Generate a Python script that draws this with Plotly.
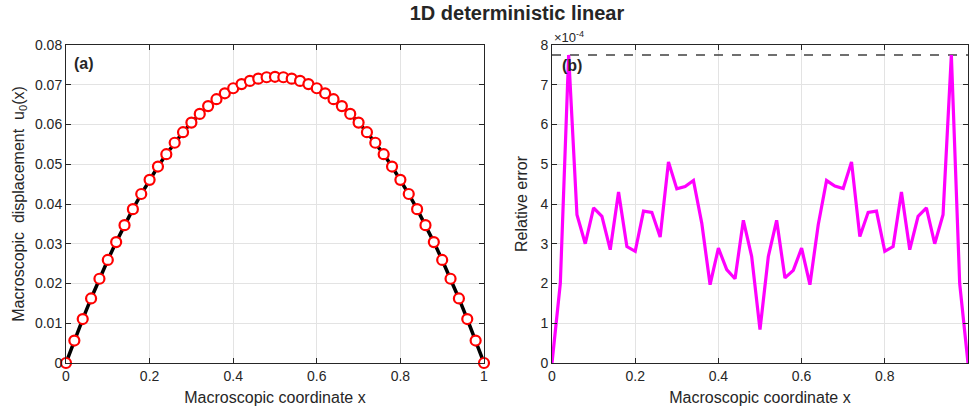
import plotly.graph_objects as go

# ---- data ----
x_nodes = [round(0.02 * i, 2) for i in range(51)]
u0_half = [0.0, 0.00565, 0.01106, 0.01624, 0.02120, 0.02592, 0.03041, 0.03468,
           0.03871, 0.04251, 0.04608, 0.04942, 0.05253, 0.05541, 0.05806, 0.06048,
           0.06267, 0.06463, 0.06636, 0.06785, 0.06912, 0.07016, 0.07096, 0.07154,
           0.07189, 0.07200]
u0 = u0_half + u0_half[-2::-1]

rel_err = [0.0, 2.00, 7.75, 3.73, 3.00, 3.90, 3.69, 2.85, 4.30, 2.93, 2.81, 3.82,
           3.79, 3.17, 5.06, 4.38, 4.44, 4.59, 3.52, 1.97, 2.89, 2.35, 2.12, 3.59,
           2.68, 0.84, 2.68, 3.59, 2.14, 2.33, 2.89, 1.97, 3.48, 4.59, 4.45, 4.39,
           5.06, 3.18, 3.79, 3.82, 2.81, 2.93, 4.30, 2.85, 3.69, 3.90, 3.00, 3.73,
           7.75, 2.00, 0.0]
rel_err = [v * 1e-4 for v in rel_err]
err_max = max(rel_err)

x_ticks = [0, 0.2, 0.4, 0.6, 0.8, 1]
x_ticklabels = ["0", "0.2", "0.4", "0.6", "0.8", "1"]
u_ticks = [0, 0.01, 0.02, 0.03, 0.04, 0.05, 0.06, 0.07, 0.08]
u_ticklabels = ["0", "0.01", "0.02", "0.03", "0.04", "0.05", "0.06", "0.07", "0.08"]
e_ticks = [i * 1e-4 for i in range(9)]
e_ticklabels = [str(i) for i in range(9)]

FONT = "Liberation Sans, Arial, sans-serif"
AX = "#262626"
GRID = "#e3e3e3"

fig = go.Figure()
fig.add_trace(go.Scatter(x=x_nodes, y=u0, mode="lines", line=dict(color="black", width=3.5),
                         xaxis="x", yaxis="y", showlegend=False))
fig.add_trace(go.Scatter(x=x_nodes, y=u0, mode="markers", cliponaxis=False,
                         marker=dict(symbol="circle", size=10, color="white", line=dict(width=2.2, color="red")),
                         xaxis="x", yaxis="y", showlegend=False))
fig.add_trace(go.Scatter(x=[0, 1], y=[err_max, err_max], mode="lines",
                         line=dict(color="#404040", width=1.5, dash="dash"),
                         xaxis="x2", yaxis="y2", showlegend=False))
fig.add_trace(go.Scatter(x=x_nodes, y=rel_err, mode="lines", line=dict(color="#ff00ff", width=3.2),
                         xaxis="x2", yaxis="y2", showlegend=False))

axis_common = dict(showline=True, linecolor=AX, linewidth=1, mirror="ticks", ticks="inside",
                   ticklen=5, tickcolor=AX, showgrid=True, gridcolor=GRID, gridwidth=1,
                   zeroline=False, tickfont=dict(family=FONT, size=14, color=AX), automargin=False)

fig.update_layout(
    width=969, height=416,
    margin=dict(l=66, r=1, t=45, b=53),
    paper_bgcolor="white", plot_bgcolor="white",
    font=dict(family=FONT, color=AX),
    xaxis=dict(domain=[0, 0.4634], range=[0, 1], tickvals=x_ticks, ticktext=x_ticklabels,
               title=dict(text="Macroscopic coordinate x", font=dict(size=16, color=AX), standoff=9),
               anchor="y", **axis_common),
    yaxis=dict(domain=[0, 1], range=[0, 0.08], tickvals=u_ticks, ticktext=u_ticklabels,
               title=dict(text="Macroscopic  displacement  u<sub>0</sub>(x)", font=dict(size=16, color=AX), standoff=6),
               anchor="x", **axis_common),
    xaxis2=dict(domain=[0.5388, 1], range=[0, 1], tickvals=x_ticks, ticktext=x_ticklabels,
                title=dict(text="Macroscopic coordinate x", font=dict(size=16, color=AX), standoff=9),
                anchor="y2", **axis_common),
    yaxis2=dict(domain=[0, 1], range=[0, 8e-4], tickvals=e_ticks, ticktext=e_ticklabels,
                title=dict(text="Relative error", font=dict(size=16, color=AX), standoff=8),
                anchor="x2", **axis_common),
    title=dict(text="<b>1D deterministic linear</b>", x=0.5, xref="paper", xanchor="center",
               y=0.968, yref="container", yanchor="middle", font=dict(family=FONT, size=20, color=AX)),
    annotations=[
        dict(text="<b>(a)</b>", x=0.015, y=0.975, xref="x domain", yref="y domain", xanchor="left",
             yanchor="top", showarrow=False, font=dict(family=FONT, size=16, color=AX)),
        dict(text="<b>(b)</b>", x=0.02, y=0.968, xref="x2 domain", yref="y2 domain", xanchor="left",
             yanchor="top", showarrow=False, font=dict(family=FONT, size=16, color=AX)),
        dict(text="×10<sup>-4</sup>", x=0.0, y=1.0, xref="x2 domain", yref="y2 domain", xanchor="left",
             yanchor="bottom", showarrow=False, font=dict(family=FONT, size=13, color=AX), yshift=-2),
    ],
)

fig.write_html("out.html")
